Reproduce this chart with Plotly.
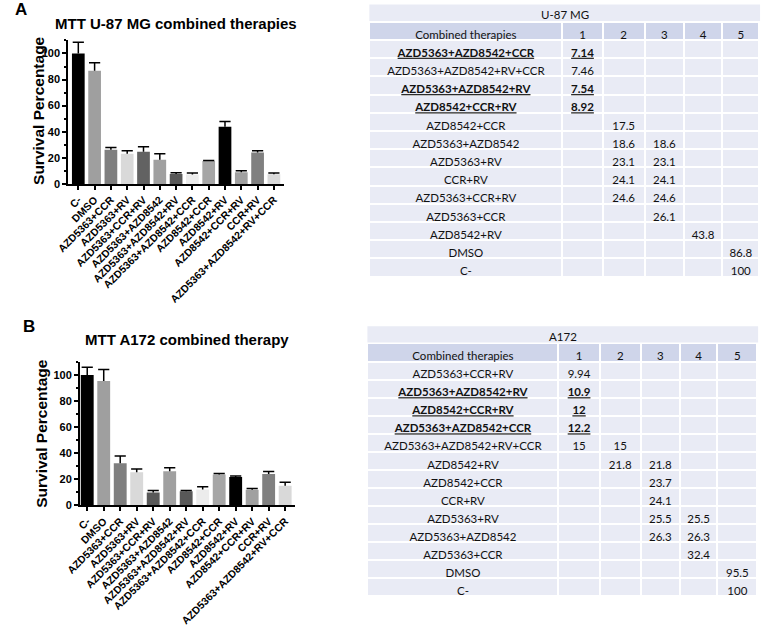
import plotly.graph_objects as go

W, H = 764, 628

# ---------------- data ----------------
categories = ["C-", "DMSO", "AZD5363+CCR", "AZD5363+RV", "AZD5363+CCR+RV",
              "AZD5363+AZD8542", "AZD5363+AZD8542+RV", "AZD5363+AZD8542+CCR",
              "AZD8542+CCR", "AZD8542+RV", "AZD8542+CCR+RV", "CCR+RV",
              "AZD5363+AZD8542+RV+CCR"]

u87_survival = [100, 86.8, 26.1, 23.1, 24.6, 18.6, 7.54, 7.14, 17.5, 43.8, 8.92, 24.1, 7.46]
u87_error = [8.6, 6.1, 1.8, 2.3, 3.9, 4.5, 1.0, 1.3, 0.4, 4.1, 1.2, 1.4, 1.0]

a172_survival = [100, 95.5, 32.4, 25.5, 9.94, 26.3, 10.9, 12.2, 23.7, 21.8, 12, 24.1, 15]
a172_error = [6.0, 8.8, 5.5, 2.5, 1.6, 2.6, 0.5, 2.2, 0.8, 0.8, 1.0, 2.0, 2.8]

u87_colors = ["#000000", "#9f9f9f", "#7f7f7f", "#d9d9d9", "#626262", "#a0a0a0", "#585858",
              "#ececec", "#a6a6a6", "#000000", "#a0a0a0", "#808080", "#d9d9d9"]
a172_colors = ["#000000", "#9f9f9f", "#7f7f7f", "#d9d9d9", "#585858", "#a0a0a0", "#585858",
               "#ececec", "#a6a6a6", "#000000", "#a0a0a0", "#808080", "#d9d9d9"]

u87_rank_therapies = ["AZD5363+AZD8542+CCR", "AZD5363+AZD8542+RV+CCR", "AZD5363+AZD8542+RV",
                      "AZD8542+CCR+RV", "AZD8542+CCR", "AZD5363+AZD8542", "AZD5363+RV",
                      "CCR+RV", "AZD5363+CCR+RV", "AZD5363+CCR", "AZD8542+RV", "DMSO", "C-"]
u87_rank_values = [7.14, 7.46, 7.54, 8.92, 17.5, 18.6, 23.1, 24.1, 24.6, 26.1, 43.8, 86.8, 100]
u87_rank_groups = [[1], [1], [1], [1], [2], [2, 3], [2, 3], [2, 3], [2, 3], [3], [4], [5], [5]]
u87_highlight = ["AZD5363+AZD8542+CCR", "AZD5363+AZD8542+RV", "AZD8542+CCR+RV"]

a172_rank_therapies = ["AZD5363+CCR+RV", "AZD5363+AZD8542+RV", "AZD8542+CCR+RV",
                       "AZD5363+AZD8542+CCR", "AZD5363+AZD8542+RV+CCR", "AZD8542+RV",
                       "AZD8542+CCR", "CCR+RV", "AZD5363+RV", "AZD5363+AZD8542",
                       "AZD5363+CCR", "DMSO", "C-"]
a172_rank_values = [9.94, 10.9, 12, 12.2, 15, 21.8, 23.7, 24.1, 25.5, 26.3, 32.4, 95.5, 100]
a172_rank_groups = [[1], [1], [1], [1], [1, 2], [2, 3], [3], [3], [3, 4], [3, 4], [4], [5], [5]]
a172_highlight = ["AZD5363+AZD8542+RV", "AZD8542+CCR+RV", "AZD5363+AZD8542+CCR"]

group_labels = ["1", "2", "3", "4", "5"]

# ---------------- helpers ----------------
def px_x(p):
    return min(max(p / W, 0), 1)


def px_y(p):
    return min(max(1 - p / H, 0), 1)


AX_FONT = "Liberation Sans"
TB_FONT = "Lato"
CLEAR = "rgba(0,0,0,0)"


def table_columns(names, values, groups, highlight):
    """Plain columns (highlighted rows blanked) and overlay columns (only highlighted rows)."""
    full = [list(names)] + [[] for _ in group_labels]
    for v, g in zip(values, groups):
        for k in range(len(group_labels)):
            full[k + 1].append(f"{v:g}" if (k + 1) in g else "")
    plain = [[("" if n in highlight else t) for n, t in zip(names, col)] for col in full]
    over = [[(t if n in highlight else "") for n, t in zip(names, col)] for col in full]
    return plain, over


fig = go.Figure()


def add_chart(idx, survival, error, colors, xdom, ydom, xrange):
    xa = "x" if idx == 1 else f"x{idx}"
    ya = "y" if idx == 1 else f"y{idx}"
    fig.add_trace(go.Bar(
        x=categories, y=survival, xaxis=xa, yaxis=ya,
        marker=dict(color=colors, line=dict(width=0)),
        error_y=dict(type="data", symmetric=False, array=error,
                     arrayminus=[0] * len(error), color="black",
                     thickness=1.5, width=0),
        showlegend=False, hoverinfo="x+y"))
    fig.add_trace(go.Scatter(
        x=categories, y=[s + e for s, e in zip(survival, error)], xaxis=xa, yaxis=ya,
        mode="markers",
        marker=dict(symbol="line-ew", size=8, line=dict(color="black", width=1.5)),
        showlegend=False, hoverinfo="skip"))
    axis_common = dict(showline=True, linecolor="black", linewidth=1.5,
                       ticks="outside", tickcolor="black", tickwidth=1.5, ticklen=4,
                       showgrid=False, zeroline=False)
    fig.update_layout(**{
        ("xaxis" if idx == 1 else f"xaxis{idx}"): dict(
            domain=xdom, range=xrange, anchor=ya, tickangle=-45,
            tickfont=dict(family=AX_FONT, size=10.5, color="black", weight="bold"),
            **axis_common),
        ("yaxis" if idx == 1 else f"yaxis{idx}"): dict(
            domain=ydom, range=[0, 110], anchor=xa, tick0=0, dtick=20,
            tickfont=dict(family=AX_FONT, size=11, color="black", weight="bold"),
            minor=dict(dtick=10, ticks="outside", ticklen=2.5, tickcolor="black", tickwidth=1.5),
            **axis_common),
    })


add_chart(1, u87_survival, u87_error, u87_colors,
          [px_x(55), px_x(274.7)], [px_y(185.7), px_y(40.8)], [-0.633, 12.6])
add_chart(2, a172_survival, a172_error, a172_colors,
          [px_x(67), px_x(286.3)], [px_y(510.3), px_y(365.5)], [-0.452, 12.6])


def add_table(names, values, groups, highlight, x0, x1, top, row_h, widths, title, title_y):
    plain, over = table_columns(names, values, groups, highlight)
    fnt = dict(family=TB_FONT, size=11.5, color="#111111")
    domain = dict(x=[px_x(x0), px_x(x1)], y=[px_y(top + 275), px_y(top)])
    fig.add_trace(go.Table(
        domain=domain, columnwidth=widths,
        header=dict(values=["Combined therapies"] + group_labels, fill_color="#CFD5EA",
                    line=dict(color="white", width=2), font=fnt, height=row_h, align="center"),
        cells=dict(values=plain, fill_color="#E9EBF5", line=dict(color="white", width=2),
                   font=fnt, height=row_h, align="center")))
    # overlay: highlighted rows in bold + underline
    fig.add_trace(go.Table(
        domain=domain, columnwidth=widths,
        header=dict(values=[""] * (len(group_labels) + 1), fill_color=CLEAR,
                    line=dict(color=CLEAR, width=2), font=fnt, height=row_h, align="center"),
        cells=dict(values=over, fill_color=CLEAR, line=dict(color=CLEAR, width=2),
                   font=dict(fnt, weight="bold", lineposition="under"),
                   height=row_h, align="center")))
    fig.add_shape(type="rect", xref="paper", yref="paper",
                  x0=px_x(x0), x1=px_x(x1), y0=px_y(top - 1), y1=px_y(top - 17.5),
                  fillcolor="#E9EBF5", line=dict(width=0))
    fig.add_annotation(text=title, xref="paper", yref="paper",
                       x=px_x((x0 + x1) / 2), y=px_y(title_y),
                       showarrow=False, font=fnt, xanchor="center", yanchor="middle")


add_table(u87_rank_therapies, u87_rank_values, u87_rank_groups, u87_highlight,
          362, 760, 22.1, 18.2, [197, 41, 43, 40, 39, 38], "U-87 MG", 14.5)
add_table(a172_rank_therapies, a172_rank_values, a172_rank_groups, a172_highlight,
          360, 758, 346.8, 18.07, [195, 42, 42, 40, 38, 41], "A172", 339.5)

# ---------------- text ----------------
def label(text, x, y, size, xanchor="center", angle=0):
    fig.add_annotation(text=text, xref="paper", yref="paper", x=px_x(x), y=px_y(y),
                       showarrow=False, xanchor=xanchor, yanchor="middle", textangle=angle,
                       font=dict(family=AX_FONT, size=size, color="black", weight="bold"))


label("A", 7.5, 9.5, 17)
label("B", 15, 330, 17)
label("MTT U-87 MG combined therapies", 40, 24, 15, xanchor="left")
label("MTT A172 combined therapy", 70, 342.5, 15, xanchor="left")
label("Survival Percentage", 25.5, 112, 15.5, angle=-90)
label("Survival Percentage", 28.5, 437, 15.5, angle=-90)

fig.update_layout(width=W, height=H, margin=dict(l=0, r=0, t=0, b=0),
                  paper_bgcolor="white", plot_bgcolor="white", bargap=0.22,
                  showlegend=False)

fig.write_html("out.html", config={"displayModeBar": False},
               post_script="document.body.style.margin='0px';")
